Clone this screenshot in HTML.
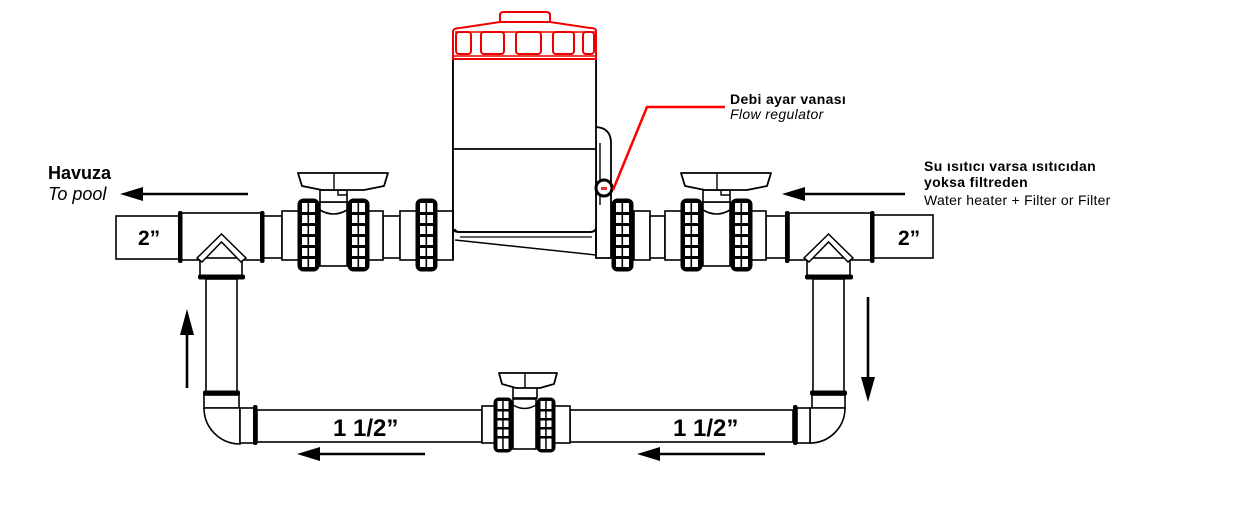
<!DOCTYPE html>
<html>
<head>
<meta charset="utf-8">
<style>
  html,body{margin:0;padding:0;background:#fff;}
  svg{display:block;}
  text{font-family:"Liberation Sans", Arial, sans-serif;}
</style>
</head>
<body>
<svg width="1237" height="527" viewBox="0 0 1237 527" xmlns="http://www.w3.org/2000/svg">
<rect width="1237" height="527" fill="#fff"/>
<defs>
  <g id="nutB">
    <rect x="0.5" y="0.5" width="22" height="73" rx="6" fill="#000"/>
    <rect x="5" y="5" width="13" height="64" fill="#fff"/>
    <rect x="5" y="14" width="13" height="3" fill="#000"/>
    <rect x="5" y="25" width="13" height="3" fill="#000"/>
    <rect x="5" y="36" width="13" height="3" fill="#000"/>
    <rect x="5" y="47" width="13" height="3" fill="#000"/>
    <rect x="5" y="58" width="13" height="3" fill="#000"/>
    <rect x="10.5" y="5" width="1.6" height="64" fill="#000"/>
  </g>
  <g id="nutS">
    <rect x="0.5" y="0.5" width="19" height="55" rx="5" fill="#000"/>
    <rect x="4.5" y="4" width="11" height="48" fill="#fff"/>
    <rect x="4.5" y="12" width="11" height="2.5" fill="#000"/>
    <rect x="4.5" y="21" width="11" height="2.5" fill="#000"/>
    <rect x="4.5" y="30" width="11" height="2.5" fill="#000"/>
    <rect x="4.5" y="39" width="11" height="2.5" fill="#000"/>
    <rect x="9.2" y="4" width="1.5" height="48" fill="#000"/>
  </g>
  <g id="valveB">
    <rect x="0" y="211" width="101" height="49" fill="#fff" stroke="#000" stroke-width="1.6"/>
    <rect x="38" y="202" width="27" height="64" fill="#fff" stroke="#000" stroke-width="1.6"/>
    <path d="M38,210 Q51.5,218 65,210" fill="none" stroke="#000" stroke-width="1.6"/>
    <rect x="38" y="190" width="27" height="12" fill="#fff" stroke="#000" stroke-width="1.6"/>
    <path d="M56,190 L56,195 L65,195" fill="none" stroke="#000" stroke-width="1.4"/>
    <polygon points="16,173 106,173 102,186 82,190 40,190 20,186" fill="#fff" stroke="#000" stroke-width="1.8" stroke-linejoin="round"/>
    <line x1="52" y1="173" x2="52" y2="190" stroke="#000" stroke-width="1.4"/>
    <use href="#nutB" x="15" y="198"/>
    <use href="#nutB" x="65" y="198"/>
  </g>
</defs>

<g fill="#fff" stroke="#000" stroke-width="1.6">
  <rect x="116" y="216" width="64" height="43"/>
  <rect x="180" y="213" width="82" height="47"/>
  <rect x="262" y="216" width="20" height="42"/>
  <rect x="383" y="216" width="17" height="42"/>
  <rect x="400" y="211" width="53" height="49"/>
  <rect x="634" y="211" width="16" height="49"/>
  <rect x="650" y="216" width="15" height="42"/>
  <rect x="766" y="216" width="21" height="42"/>
  <rect x="789" y="213" width="83" height="47"/>
  <rect x="872" y="215" width="61" height="43"/>

  <rect x="200" y="258" width="42" height="18"/>
  <rect x="206" y="279" width="31" height="113"/>
  <rect x="204" y="395" width="35" height="13"/>
  <path d="M204,408 A36,36 0 0 0 240,444 L240,408 Z"/>
  <rect x="240" y="408" width="14" height="35"/>
  <rect x="257" y="410" width="225" height="32"/>

  <rect x="807" y="258" width="43" height="18"/>
  <rect x="813" y="279" width="31" height="113"/>
  <rect x="812" y="395" width="33" height="13"/>
  <path d="M845,408 A35,35 0 0 1 810,443 L810,408 Z"/>
  <rect x="797" y="408" width="13" height="35"/>
  <rect x="570" y="410" width="223" height="32"/>
</g>

<g fill="#fff" stroke="#000" stroke-width="1.5" stroke-linejoin="miter">
  <polygon points="197,258 221.5,234 246,258 241,262 221.5,242 202,262"/>
  <polygon points="804,258 828.5,234 853,258 848,262 828.5,242 809,262"/>
</g>

<g fill="#000">
  <rect x="178" y="211" width="4.5" height="52" rx="2"/>
  <rect x="260" y="211" width="4.5" height="52" rx="2"/>
  <rect x="785" y="211" width="4.5" height="52" rx="2"/>
  <rect x="870" y="211" width="4.5" height="52" rx="2"/>
  <rect x="198" y="274.5" width="47" height="5" rx="2"/>
  <rect x="203" y="390.5" width="37" height="5" rx="2"/>
  <rect x="805" y="274.5" width="48" height="5" rx="2"/>
  <rect x="810" y="390.5" width="37" height="5" rx="2"/>
  <rect x="253" y="405" width="4.5" height="40" rx="2"/>
  <rect x="793" y="405" width="4.5" height="40" rx="2"/>
</g>

<use href="#valveB" x="282" y="0"/>
<use href="#valveB" x="665" y="0"/>
<use href="#nutB" x="415" y="198"/>

<g>
  <rect x="482" y="406" width="88" height="37" fill="#fff" stroke="#000" stroke-width="1.6"/>
  <rect x="513" y="399" width="23" height="50" fill="#fff" stroke="#000" stroke-width="1.6"/>
  <path d="M513,405 Q524.5,412 536,405" fill="none" stroke="#000" stroke-width="1.5"/>
  <rect x="513" y="387" width="24" height="11" fill="#fff" stroke="#000" stroke-width="1.6"/>
  <polygon points="499,373 557,373 554,384 540,388 516,388 502,384" fill="#fff" stroke="#000" stroke-width="1.8" stroke-linejoin="round"/>
  <line x1="525" y1="373" x2="525" y2="388" stroke="#000" stroke-width="1.4"/>
  <use href="#nutS" x="493" y="397"/>
  <use href="#nutS" x="536" y="397"/>
</g>

<g fill="none" stroke="#000" stroke-width="1.8">
  <path d="M453,60 L453,228 Q453,232 459,232 L590,232 Q596,232 596,226" fill="#fff"/>
  <path d="M453,60 L596,60 L596,127 Q611,128 611,143 L611,258 L596,258 L596,140" fill="#fff"/>
  <rect x="453" y="60" width="143" height="170" fill="#fff" stroke="none"/>
  <line x1="453" y1="60" x2="453" y2="230"/>
  <line x1="596" y1="60" x2="596" y2="258"/>
  <line x1="453" y1="149" x2="596" y2="149"/>
  <line x1="600" y1="143" x2="600" y2="205" stroke-width="1.4"/>
  <path d="M455,229 Q455,232 461,232 L590,232 Q596,232 596,227"/>
  <line x1="460" y1="237" x2="592" y2="237" stroke-width="1.3"/>
  <line x1="455" y1="240" x2="596" y2="255" stroke-width="1.4"/>
  <line x1="453" y1="211" x2="453" y2="260"/>
</g>
<use href="#nutB" x="611" y="198"/>
<circle cx="604" cy="188" r="8" fill="#fff" stroke="#000" stroke-width="3"/>
<rect x="601" y="187" width="6" height="3" fill="#d33"/>

<g fill="none" stroke="#e00" stroke-width="2">
  <path d="M500,22 L500,15 Q500,12 504,12 L546,12 Q550,12 550,15 L550,22"/>
  <path d="M453,59 L453,31 Q454,28 460,28 L500,22 L550,22 L590,28 Q596,28 596,31 L596,59 Z" fill="#fff"/>
  <line x1="455" y1="32" x2="595" y2="32" stroke-width="1.4"/>
  <rect x="456" y="32" width="15" height="22" rx="3"/>
  <rect x="481" y="32" width="23" height="22" rx="3"/>
  <rect x="516" y="32" width="25" height="22" rx="3"/>
  <rect x="553" y="32" width="21" height="22" rx="3"/>
  <rect x="583" y="32" width="11" height="22" rx="3"/>
  <line x1="453" y1="56" x2="596" y2="56" stroke-width="1.4"/>
</g>

<polyline points="613,190 647,107 725,107" fill="none" stroke="#f00" stroke-width="2.5"/>

<g stroke="#000" stroke-width="2.6" fill="none">
  <line x1="248" y1="194" x2="138" y2="194"/>
  <line x1="905" y1="194" x2="800" y2="194"/>
  <line x1="187" y1="388" x2="187" y2="330"/>
  <line x1="868" y1="297" x2="868" y2="380"/>
  <line x1="425" y1="454" x2="315" y2="454"/>
  <line x1="765" y1="454" x2="655" y2="454"/>
</g>
<g fill="#000">
  <polygon points="120,194 143,187 143,201"/>
  <polygon points="782,194 805,187 805,201"/>
  <polygon points="187,309 180,335 194,335"/>
  <polygon points="868,402 861,377 875,377"/>
  <polygon points="297,454 320,447 320,461"/>
  <polygon points="637,454 660,447 660,461"/>
</g>

<text x="48" y="179" font-size="18" font-weight="bold" fill="#000">Havuza</text>
<text x="48" y="200" font-size="18" font-style="italic" fill="#000">To pool</text>
<text x="138" y="245" font-size="21" font-weight="bold" fill="#000">2”</text>
<text x="898" y="245" font-size="21" font-weight="bold" fill="#000">2”</text>
<text x="333" y="436" font-size="24" font-weight="bold" fill="#000">1 1/2”</text>
<text x="673" y="436" font-size="24" font-weight="bold" fill="#000">1 1/2”</text>
<text x="730" y="104" font-size="14" font-weight="bold" fill="#000" letter-spacing="0.35">Debi ayar vanası</text>
<text x="730" y="119" font-size="14" font-style="italic" fill="#000" letter-spacing="0.35">Flow regulator</text>
<text x="924" y="171" font-size="14" font-weight="bold" fill="#000" letter-spacing="0.35">Su ısıtıcı varsa ısıtıcıdan</text>
<text x="924" y="187" font-size="14" font-weight="bold" fill="#000" letter-spacing="0.35">yoksa filtreden</text>
<text x="924" y="205" font-size="14" fill="#000" letter-spacing="0.25">Water heater + Filter or Filter</text>
</svg>
</body>
</html>
